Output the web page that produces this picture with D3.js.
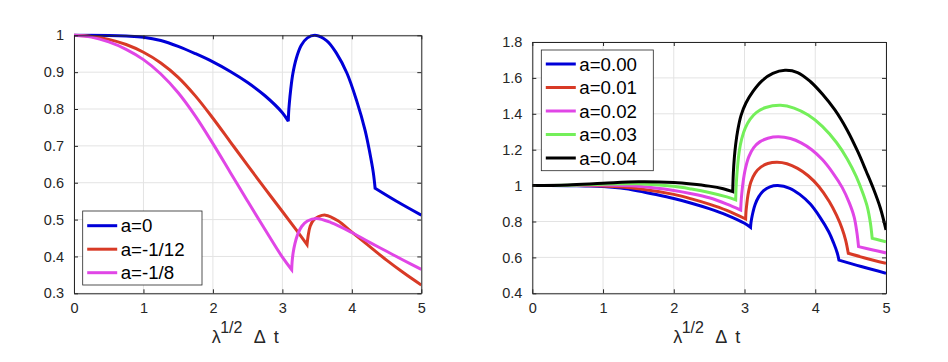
<!DOCTYPE html>
<html><head><meta charset="utf-8">
<script src="https://cdn.jsdelivr.net/npm/d3@7"></script>
<style>body{margin:0;background:#fff}svg{display:block}</style>
</head><body><svg id="c" width="948" height="362"></svg>
<script>
// ---------- data ----------
const xTicks = [0, 1, 2, 3, 4, 5];
const leftYTicks = [0.3, 0.4, 0.5, 0.6, 0.7, 0.8, 0.9, 1];
const rightYTicks = [0.4, 0.6, 0.8, 1, 1.2, 1.4, 1.6, 1.8];
const leftLabels = ["a=0", "a=-1/12", "a=-1/8"];
const rightLabels = ["a=0.00", "a=0.01", "a=0.02", "a=0.03", "a=0.04"];
const xLabelParts = ["λ", "1/2", "Δ", "t"];

// each series is a list of smooth pieces ([lambda^(1/2) dt, value]) joined at kinks
const leftA0 = [
  [[0,1],[0.25,1.0],[0.5,0.9995],[0.75,0.998],[1,0.995],[1.25,0.986],[1.5,0.970],[1.75,0.950],[2,0.928],[2.25,0.902],[2.5,0.872],[2.75,0.836],[3,0.790],[3.085,0.767]],
  [[3.085,0.767],[3.09,0.79],[3.1,0.815],[3.12,0.853],[3.15,0.895],[3.2,0.937],[3.27,0.972],[3.36,0.993],[3.47,1.0],[3.64,0.985],[3.78,0.951],[3.93,0.897],[4.07,0.822],[4.19,0.743],[4.26,0.68],[4.31,0.626],[4.335,0.585]],
  [[4.335,0.585],[4.65,0.549],[5,0.512]]
];
const leftA112 = [
  [[0,1],[0.25,0.997],[0.5,0.989],[0.75,0.975],[1,0.954],[1.25,0.925],[1.5,0.886],[1.75,0.835],[2,0.775],[2.25,0.711],[2.5,0.647],[2.75,0.584],[3,0.522],[3.2,0.472],[3.355,0.432]],
  [[3.355,0.432],[3.37,0.455],[3.4,0.482],[3.45,0.499],[3.52,0.508],[3.62,0.512],[3.8,0.497],[4,0.466],[4.25,0.428],[4.5,0.39],[4.75,0.355],[5,0.3225]]
];
const leftA18 = [
  [[0,1],[0.25,0.995],[0.5,0.982],[0.75,0.962],[1,0.934],[1.25,0.895],[1.5,0.844],[1.75,0.78],[2,0.706],[2.25,0.628],[2.5,0.55],[2.75,0.473],[3,0.398],[3.134,0.364]],
  [[3.134,0.364],[3.14,0.385],[3.155,0.41],[3.18,0.434],[3.22,0.46],[3.28,0.482],[3.36,0.496],[3.49,0.503],[3.7,0.492],[4,0.465],[4.25,0.439],[4.5,0.414],[4.75,0.389],[5,0.365]]
];

const rightA000 = leftA0;
const rightA001 = [
  [[0,1],[0.5,1.0],[1,0.998],[1.5,0.983],[2,0.951],[2.25,0.926],[2.5,0.897],[2.75,0.862],[3.016,0.814]],
  [[3.016,0.814],[3.02,0.85],[3.03,0.89],[3.05,0.95],[3.09,1.02],[3.15,1.07],[3.23,1.103],[3.33,1.123],[3.46,1.13],[3.6,1.122],[3.75,1.096],[3.9,1.055],[4.05,0.995],[4.2,0.91],[4.3,0.835],[4.38,0.76],[4.43,0.695],[4.467,0.623]],
  [[4.467,0.623],[4.7,0.597],[5,0.567]]
];
const rightA002 = [
  [[0,1],[0.5,1.001],[1,1.003],[1.5,0.996],[2,0.973],[2.25,0.955],[2.5,0.932],[2.75,0.897],[2.946,0.864]],
  [[2.946,0.864],[2.95,0.9],[2.96,0.95],[2.98,1.02],[3.01,1.09],[3.06,1.16],[3.13,1.212],[3.22,1.245],[3.33,1.264],[3.48,1.272],[3.65,1.262],[3.8,1.238],[3.95,1.2],[4.1,1.145],[4.25,1.07],[4.38,0.99],[4.48,0.905],[4.55,0.825],[4.59,0.735],[4.612,0.66]],
  [[4.612,0.66],[4.8,0.643],[5,0.625]]
];
const rightA003 = [
  [[0,1],[0.5,1.002],[1,1.008],[1.5,1.01],[2,0.996],[2.25,0.981],[2.5,0.962],[2.75,0.937],[2.875,0.92]],
  [[2.875,0.92],[2.878,0.96],[2.885,1.02],[2.9,1.1],[2.925,1.19],[2.96,1.26],[3.01,1.32],[3.08,1.37],[3.17,1.408],[3.3,1.435],[3.51,1.447],[3.7,1.432],[3.9,1.393],[4.1,1.33],[4.3,1.24],[4.45,1.15],[4.58,1.05],[4.68,0.95],[4.74,0.875],[4.78,0.79],[4.805,0.706]],
  [[4.805,0.706],[4.9,0.697],[5,0.687]]
];
const rightA004 = [
  [[0,1],[0.5,1.004],[1,1.013],[1.5,1.021],[2,1.017],[2.25,1.009],[2.5,0.997],[2.7,0.982],[2.833,0.966]],
  [[2.833,0.966],[2.836,1.01],[2.842,1.07],[2.855,1.15],[2.875,1.23],[2.905,1.31],[2.95,1.39],[3.02,1.46],[3.12,1.525],[3.25,1.585],[3.4,1.625],[3.572,1.642],[3.75,1.63],[3.93,1.58],[4.1,1.51],[4.28,1.42],[4.45,1.31],[4.6,1.19],[4.72,1.08],[4.82,0.985],[4.92,0.875],[5,0.753]]
];

const leftSeries = [leftA0, leftA112, leftA18];
const rightSeries = [rightA000, rightA001, rightA002, rightA003, rightA004];

// ---------- styles ----------
const leftColors = ["#0000d8", "#d83a26", "#e046e6"];
const rightColors = ["#0000d8", "#d83a26", "#e046e6", "#74ef5a", "#000000"];
const axisColor = "#262626";
const gridColor = "#e3e3e3";
const font = "'Liberation Sans', Arial, Helvetica, sans-serif";

const svg = d3.select("#c");
svg.append("rect").attr("width", 948).attr("height", 362).attr("fill", "#fff");

function panel(cfg) {
  const g = svg.append("g");
  const x = d3.scaleLinear().domain([0, 5]).range([cfg.x0, cfg.x1]);
  const y = d3.scaleLinear().domain([cfg.ymin, cfg.ymax]).range([cfg.y1, cfg.y0]);
  const id = "clip" + cfg.name;
  svg.append("clipPath").attr("id", id).append("rect")
    .attr("x", cfg.x0).attr("y", cfg.y0 - 2).attr("width", cfg.x1 - cfg.x0).attr("height", cfg.y1 - cfg.y0 + 2);

  // grid
  g.append("g").selectAll("line").data(xTicks).join("line")
    .attr("x1", d => x(d)).attr("x2", d => x(d)).attr("y1", cfg.y0).attr("y2", cfg.y1)
    .attr("stroke", gridColor).attr("stroke-width", 1);
  g.append("g").selectAll("line").data(cfg.yTicks).join("line")
    .attr("y1", d => y(d)).attr("y2", d => y(d)).attr("x1", cfg.x0).attr("x2", cfg.x1)
    .attr("stroke", gridColor).attr("stroke-width", 1);

  // curves: smooth pieces joined at the kinks
  const line = d3.line().x(d => x(d[0])).y(d => y(d[1])).curve(d3.curveCatmullRom.alpha(0.5));
  const pathOf = segs => segs.map((s, i) => {
    const p = line(s);
    return i === 0 ? p : p.replace(/^M[^A-Za-z]*/, "");
  }).join("");
  g.append("g").attr("clip-path", `url(#${id})`).selectAll("path").data(cfg.series).join("path")
    .attr("d", pathOf).attr("fill", "none").attr("stroke", (d, i) => cfg.colors[i])
    .attr("stroke-width", 3).attr("stroke-linejoin", "miter").attr("stroke-miterlimit", 3).attr("stroke-linecap", "butt");

  // axes with inward ticks (box on)
  const tl = 4;
  const ax = g.append("g");
  ax.append("g").attr("transform", `translate(0,${cfg.y1})`)
    .call(d3.axisBottom(x).tickValues(xTicks).tickSizeInner(-tl).tickSizeOuter(0).tickPadding(9).tickFormat(d3.format("~g")));
  ax.append("g").attr("transform", `translate(0,${cfg.y0})`)
    .call(d3.axisTop(x).tickValues(xTicks).tickSizeInner(-tl).tickSizeOuter(0).tickFormat(""));
  ax.append("g").attr("transform", `translate(${cfg.x0},0)`)
    .call(d3.axisLeft(y).tickValues(cfg.yTicks).tickSizeInner(-tl).tickSizeOuter(0).tickPadding(10).tickFormat(d3.format("~g")));
  ax.append("g").attr("transform", `translate(${cfg.x1},0)`)
    .call(d3.axisRight(y).tickValues(cfg.yTicks).tickSizeInner(-tl).tickSizeOuter(0).tickFormat(""));
  ax.selectAll(".domain").attr("stroke", axisColor).attr("stroke-width", 1);
  ax.selectAll(".tick line").attr("stroke", axisColor).attr("stroke-width", 1);
  ax.selectAll(".tick text").attr("fill", axisColor).style("font-family", font).style("font-size", "14.5px");

  // x label
  const sx = (cfg.x0 + cfg.x1) / 2 - 36;
  const t = g.append("text").attr("fill", axisColor).style("font-family", font).style("font-size", "18px");
  t.append("tspan").attr("x", sx).attr("y", 342.5).text(xLabelParts[0]);
  t.append("tspan").attr("x", sx + 8.5).attr("y", 333).style("font-size", "16px").text(xLabelParts[1]);
  t.append("tspan").attr("x", sx + 42).attr("y", 342.5).text(xLabelParts[2]);
  t.append("tspan").attr("x", sx + 62).attr("y", 342.5).text(xLabelParts[3]);

  // legend
  const L = cfg.legend;
  const lg = g.append("g");
  lg.append("rect").attr("x", L.x).attr("y", L.y).attr("width", L.w).attr("height", L.h)
    .attr("fill", "#fff").attr("stroke", axisColor).attr("stroke-width", 0.8);
  cfg.labels.forEach((lab, i) => {
    const yy = L.y + L.first + i * L.step;
    lg.append("line").attr("x1", L.x + 4.5).attr("x2", L.x + 34.5).attr("y1", yy).attr("y2", yy)
      .attr("stroke", cfg.colors[i]).attr("stroke-width", 3);
    lg.append("text").attr("x", L.x + 38).attr("y", yy).attr("dy", "0.35em")
      .attr("fill", "#000").style("font-family", font).style("font-size", "18.7px").text(lab);
  });
}

panel({name: "L", x0: 74, x1: 421.3, y0: 35.3, y1: 293.3, ymin: 0.3, ymax: 1, yTicks: leftYTicks,
  series: leftSeries, colors: leftColors, labels: leftLabels,
  legend: {x: 82.7, y: 211, w: 119.3, h: 74, first: 14.7, step: 23.5}});
panel({name: "R", x0: 532.3, x1: 886, y0: 42, y1: 293.3, ymin: 0.4, ymax: 1.8, yTicks: rightYTicks,
  series: rightSeries, colors: rightColors, labels: rightLabels,
  legend: {x: 541.3, y: 50, w: 112, h: 120.7, first: 14, step: 23.5}});
</script></body></html>
